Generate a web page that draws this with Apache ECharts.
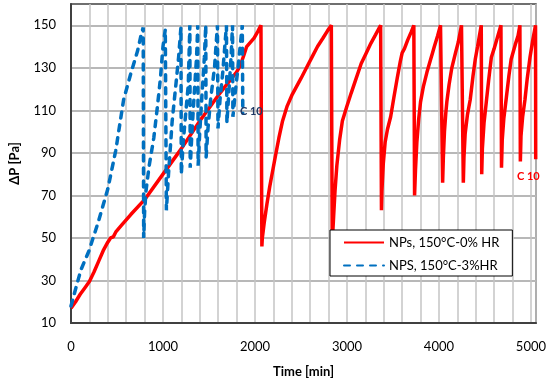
<!DOCTYPE html>
<html>
<head>
<meta charset="utf-8">
<script src="https://cdn.jsdelivr.net/npm/echarts@6/dist/echarts.min.js"></script>
<style>html,body{margin:0;padding:0;background:#fff;}#c{width:549px;height:383px;}</style>
</head>
<body>
<div id="c"></div>
<script>
// Red series: NPs, 150°C-0% HR
var redTime = [0,50,100,150,200,250,300,350,400,430,460,490,550,650,800,1000,1200,1400,1600,1800,1840,1880,1910,1950,1990,2030,2065,
  2075,2080,2100,2130,2160,2190,2220,2260,2300,2350,2400,2450,2500,2560,2620,2680,2740,2790,2830,
  2840,2845,2855,2870,2890,2920,2950,3000,3045,3100,3155,3210,3260,3310,3366,
  3375,3380,3395,3415,3440,3475,3510,3550,3580,3600,3625,3660,3700,3727,
  3735,3745,3760,3780,3800,3830,3870,3910,3930,3950,3985,4017,
  4040,4048,4060,4075,4086,4110,4140,4180,4210,4245,
  4265,4272,4285,4310,4340,4370,4395,4420,4440,4460,
  4465,4472,4490,4515,4540,4570,4600,4640,4674,
  4680,4688,4705,4730,4760,4785,4830,4860,4880,
  4885,4892,4910,4935,4960,4990,5020,5050,5052];
var redDP = [17,20,23.5,26.5,29.5,34,39,44,48,50,50.5,53,56,61,68,80,92,105,117,128,131,136,140,142,144,147,150,
  46,50,57,66,74,81,88,97,105,112,117,121,125,130,135,140,144,147.5,150,
  48,52,60,72,84,96,105,112,118,125,132,137,141.5,145.5,150,
  63,72,85,95,101,107,116,126,133,137,139,143,147,150,
  70,82,95,106,114,121,128,134,137,140,145,150,
  76,88,100,109,114,122,130,137,142,150,
  76,88,99,108,115,126,134,140,145,150,
  80,92,104,114,124,135,139,145,150,
  83,96,106,115,126,134,141,145,150,
  86,98,107,115,125,135,143,150,87];

// Blue series: NPS, 150°C-3%HR
var blueTime = [0,50,108,196,300,400,486,572,648,724,760,785,
  790,800,815,850,900,940,972,1000,1025,
  1037,1060,1100,1140,1170,1195,
  1199,1220,1250,1275,1292,
  1296,1315,1340,1365,1378,
  1382,1400,1425,1450,1465,
  1469,1490,1520,1560,1592,
  1598,1620,1650,1690,
  1695,1715,1740,1756,
  1760,1790,1820,1862,1868];
var blueDP = [18,26,35,44,58,73,91,115,127,138,145,149,
  50,62,72,84,97,112,125,140,148,
  63,80,105,122,135,149,
  80,95,110,122,150,
  83,100,118,135,150,
  84,100,118,135,150,
  88,102,116,130,150,
  101.5,115,128,150,
  104,118,135,150,
  107,120,132,150,108.6];

var xTicks = [0,1000,2000,3000,4000,5000];
var yTicks = [10,30,50,70,90,110,130,150];

function zip(a,b){ return a.map(function(v,i){ return [v,b[i]]; }); }

var FONT = 'Lato';
var chart = echarts.init(document.getElementById('c'));
chart.setOption({
  animation: false,
  backgroundColor: '#fff',
  textStyle: {fontFamily: FONT},
  grid: {left: 70, right: 11, top: 4, bottom: 60, show: true, borderColor: '#404040', borderWidth: 1.5, backgroundColor: 'transparent'},
  xAxis: {
    type: 'value', min: 0, max: 5055, interval: 200,
    name: 'Time [min]', nameLocation: 'middle', nameGap: 42,
    nameTextStyle: {fontFamily: FONT, fontWeight: 'bold', fontSize: 13, color: '#000'},
    axisLine: {show: true, lineStyle: {color: '#404040', width: 2}},
    axisTick: {show: false},
    axisLabel: {margin: 17, fontSize: 13, color: '#000', fontFamily: FONT,
      formatter: function(v){ return xTicks.indexOf(v) >= 0 ? String(v) : ''; }},
    splitLine: {show: true, lineStyle: {color: '#c4c4c4', width: 1.5}}
  },
  yAxis: {
    type: 'value', min: 10, max: 160, interval: 10,
    name: 'ΔP [Pa]', nameLocation: 'middle', nameGap: 50,
    nameTextStyle: {fontFamily: FONT, fontWeight: 'bold', fontSize: 13, color: '#000'},
    axisLine: {show: true, lineStyle: {color: '#404040', width: 2}},
    axisTick: {show: false},
    axisLabel: {margin: 15, fontSize: 13, color: '#000', fontFamily: FONT,
      formatter: function(v){ return yTicks.indexOf(v) >= 0 ? String(v) : ''; }},
    splitLine: {show: true, lineStyle: {color: ['#a0a0a0', 'rgba(0,0,0,0)'], width: 1.5}}
  },
  legend: {
    orient: 'vertical', left: 330, top: 230,
    backgroundColor: '#fff', borderColor: '#000', borderWidth: 1,
    padding: [6, 13, 4, 13], itemGap: 10, itemWidth: 40, itemHeight: 14,
    itemStyle: {opacity: 0, borderWidth: 0},
    textStyle: {fontFamily: FONT, fontSize: 13, color: '#000'},
    data: ['NPs, 150°C-0% HR', 'NPS, 150°C-3%HR']
  },
  series: [
    {name: 'NPs, 150°C-0% HR', type: 'line', data: zip(redTime, redDP), symbol: 'none',
      lineStyle: {color: '#ff0000', width: 3.5}, itemStyle: {color: '#ff0000'}, z: 2},
    {name: 'NPS, 150°C-3%HR', type: 'line', data: zip(blueTime, blueDP), symbol: 'none',
      lineStyle: {color: '#0070c0', width: 3.5, type: [6, 7], cap: 'round'}, itemStyle: {color: '#0070c0'}, z: 3}
  ],
  graphic: [
    {type: 'text', left: 240, top: 106, z: 10, style: {text: 'C 10', fill: '#1f3864', font: 'bold 11px Lato'}},
    {type: 'text', left: 517, top: 171, z: 10, style: {text: 'C 10', fill: '#ff0000', font: 'bold 11px Lato'}}
  ]
});
</script>
</body>
</html>
